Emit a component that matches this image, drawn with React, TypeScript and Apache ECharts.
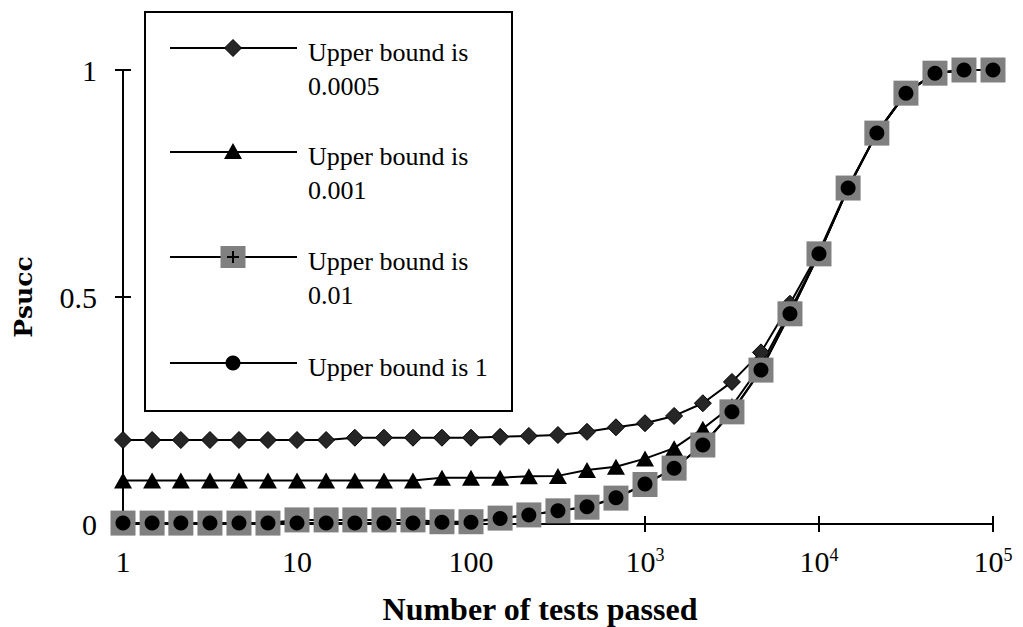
import React, { useEffect, useRef } from "react";
import * as echarts from "echarts";

// Number of tests passed (six points per decade)
const testsPassed = [
  1, 1.47, 2.15, 3.16, 4.64, 6.81,
  10, 14.7, 21.5, 31.6, 46.4, 68.1,
  100, 147, 215, 316, 464, 681,
  1000, 1470, 2150, 3160, 4640, 6810,
  10000, 14700, 21500, 31600, 46400, 68100,
  100000,
];

// Psucc for each upper bound
const bound00005 = [
  0.185, 0.185, 0.185, 0.185, 0.185, 0.185,
  0.185, 0.185, 0.19, 0.19, 0.19, 0.19,
  0.19, 0.192, 0.194, 0.196, 0.203, 0.213,
  0.222, 0.238, 0.266, 0.313, 0.378, 0.485,
  0.6, 0.742, 0.862, 0.95, 0.993, 1.0,
  1.0,
];
const bound0001 = [
  0.096, 0.096, 0.096, 0.096, 0.096, 0.096,
  0.096, 0.096, 0.096, 0.096, 0.096, 0.102,
  0.102, 0.102, 0.105, 0.106, 0.119, 0.126,
  0.144, 0.167, 0.21, 0.26, 0.35, 0.47,
  0.595, 0.74, 0.861, 0.949, 0.993, 1.0,
  1.0,
];
const bound001 = [
  0.002, 0.002, 0.002, 0.002, 0.002, 0.002,
  0.009, 0.009, 0.009, 0.009, 0.009, 0.005,
  0.005, 0.013, 0.02, 0.029, 0.037, 0.057,
  0.087, 0.123, 0.174, 0.247, 0.339, 0.463,
  0.595, 0.74, 0.861, 0.949, 0.993, 1.0,
  1.0,
];
const bound1 = [
  0.002, 0.002, 0.002, 0.002, 0.002, 0.002,
  0.002, 0.002, 0.002, 0.002, 0.002, 0.004,
  0.004, 0.012, 0.02, 0.029, 0.038, 0.058,
  0.088, 0.123, 0.174, 0.247, 0.339, 0.463,
  0.595, 0.74, 0.861, 0.949, 0.993, 1.0,
  1.0,
];

const seriesNames = [
  "Upper bound is 0.0005",
  "Upper bound is 0.001",
  "Upper bound is 0.01",
  "Upper bound is 1",
];
const legendLines = [
  ["Upper bound is", "0.0005"],
  ["Upper bound is", "0.001"],
  ["Upper bound is", "0.01"],
  ["Upper bound is 1"],
];
const yTicks = [0, 0.5, 1];
const xTitle = "Number of tests passed";
const yTitle = "Psucc";

const SERIF = "Liberation Serif";

function pairs(ys: number[]) {
  return testsPassed.map((x, i) => [x, ys[i]]);
}

function legendGraphic() {
  const rows = [48, 152, 257, 363];
  const mx = 233;
  const els: any[] = [
    {
      type: "rect",
      shape: { x: 145, y: 12, width: 367, height: 399 },
      style: { fill: "#fff", stroke: "#000", lineWidth: 2 },
      z: 20,
    },
  ];
  rows.forEach((cy, i) => {
    els.push({
      type: "line",
      shape: { x1: 170, y1: cy, x2: 297, y2: cy },
      style: { stroke: "#000", lineWidth: 2 },
      z: 21,
    });
    if (i === 0) {
      els.push({
        type: "polygon",
        shape: { points: [[mx, cy - 8.5], [mx + 8.5, cy], [mx, cy + 8.5], [mx - 8.5, cy]] },
        style: { fill: "#262626", stroke: "#000", lineWidth: 1 },
        z: 22,
      });
    } else if (i === 1) {
      els.push({
        type: "polygon",
        shape: { points: [[mx, cy - 9], [mx + 9, cy + 7], [mx - 9, cy + 7]] },
        style: { fill: "#000" },
        z: 22,
      });
    } else if (i === 2) {
      els.push({
        type: "rect",
        shape: { x: mx - 12.5, y: cy - 11, width: 25, height: 22 },
        style: { fill: "#808080" },
        z: 22,
      });
      els.push({
        type: "line",
        shape: { x1: mx, y1: cy - 6, x2: mx, y2: cy + 6 },
        style: { stroke: "#000", lineWidth: 2 },
        z: 23,
      });
      els.push({
        type: "line",
        shape: { x1: mx - 6, y1: cy, x2: mx + 6, y2: cy },
        style: { stroke: "#000", lineWidth: 2 },
        z: 23,
      });
    } else {
      els.push({
        type: "circle",
        shape: { cx: mx, cy, r: 7.5 },
        style: { fill: "#000" },
        z: 22,
      });
    }
    legendLines[i].forEach((t, j) => {
      els.push({
        type: "text",
        x: 308,
        y: cy + 4 + j * 34,
        z: 22,
        style: {
          text: t,
          fill: "#000",
          fontSize: 26,
          fontFamily: SERIF,
          align: "left",
          verticalAlign: "middle",
        },
      });
    });
  });
  return els;
}

export default function App() {
  const ref = useRef<HTMLDivElement>(null);

  useEffect(() => {
    if (!ref.current) return;
    const chart = echarts.init(ref.current, undefined, { renderer: "svg" });

    const axisLabelFont = { fontSize: 30, fontFamily: SERIF, color: "#000" };

    const lineBase = {
      type: "line",
      clip: false,
      showAllSymbol: true,
      lineStyle: { color: "#000", width: 2 },
      emphasis: { disabled: true },
    };

    chart.setOption({
      animation: false,
      backgroundColor: "#fff",
      textStyle: { fontFamily: SERIF },
      grid: { left: 123, right: 30, top: 70, bottom: 103 },
      xAxis: [
        {
          type: "log",
          logBase: 10,
          min: 1,
          max: 100000,
          axisLine: { show: true, onZero: false, lineStyle: { color: "#000", width: 2 } },
          axisTick: { show: true, length: 8, lineStyle: { color: "#000", width: 2 } },
          splitLine: { show: false },
          minorTick: { show: false },
          axisLabel: {
            margin: 22,
            formatter: (v: number) => {
              const e = Math.round(Math.log10(v));
              if (e < 3) return "{base|" + Math.round(v) + "}";
              return "{base|10}{sup|" + e + "}";
            },
            rich: {
              base: { ...axisLabelFont },
              sup: { fontSize: 18, fontFamily: SERIF, color: "#000", verticalAlign: "top", padding: [0, 0, 10, 0] },
            },
          },
        },
        {
          type: "log",
          logBase: 10,
          min: 1,
          max: 100000,
          position: "bottom",
          axisLine: { show: false, onZero: false },
          axisTick: { show: true, inside: true, length: 8, lineStyle: { color: "#000", width: 2 } },
          axisLabel: { show: false },
          splitLine: { show: false },
        },
      ],
      yAxis: [
        {
          type: "value",
          min: 0,
          max: 1,
          interval: 0.5,
          position: "left",
          axisLine: { show: true, lineStyle: { color: "#000", width: 2 } },
          axisTick: { show: true, length: 8, lineStyle: { color: "#000", width: 2 } },
          splitLine: { show: false },
          axisLabel: {
            margin: 26,
            ...axisLabelFont,
            formatter: (v: number) => (yTicks.includes(v) ? String(v) : ""),
          },
        },
        {
          type: "value",
          min: 0,
          max: 1,
          interval: 0.5,
          position: "left",
          axisLine: { show: false },
          axisTick: { show: true, inside: true, length: 8, lineStyle: { color: "#000", width: 2 } },
          axisLabel: { show: false },
          splitLine: { show: false },
        },
      ],
      series: [
        {
          ...lineBase,
          name: seriesNames[0],
          data: pairs(bound00005),
          symbol: "diamond",
          symbolSize: [17, 17],
          itemStyle: { color: "#262626", borderColor: "#000", borderWidth: 1 },
        },
        {
          ...lineBase,
          name: seriesNames[1],
          data: pairs(bound0001),
          symbol: "triangle",
          symbolSize: [18, 16],
          itemStyle: { color: "#000" },
        },
        {
          ...lineBase,
          name: seriesNames[2],
          data: pairs(bound001),
          symbol: "rect",
          symbolSize: [25, 25],
          itemStyle: { color: "#808080" },
        },
        {
          type: "scatter",
          name: seriesNames[2] + " +",
          data: pairs(bound001),
          symbol: "path://M5 0V10M0 5H10",
          symbolSize: 12,
          silent: true,
          clip: false,
          itemStyle: { color: "rgba(0,0,0,0)", borderColor: "#000", borderWidth: 2 },
          emphasis: { disabled: true },
        },
        {
          ...lineBase,
          name: seriesNames[3],
          data: pairs(bound1),
          symbol: "circle",
          symbolSize: 15,
          itemStyle: { color: "#000" },
        },
      ],
      graphic: [
        ...legendGraphic(),
        {
          type: "text",
          x: 540,
          y: 609,
          style: {
            text: xTitle,
            fill: "#000",
            fontSize: 32,
            fontWeight: "bold",
            fontFamily: SERIF,
            align: "center",
            verticalAlign: "middle",
          },
        },
        {
          type: "text",
          x: 23,
          y: 297,
          rotation: Math.PI / 2,
          style: {
            text: yTitle,
            fill: "#000",
            fontSize: 25,
            fontWeight: "bold",
            fontFamily: "DejaVu Serif",
            align: "center",
            verticalAlign: "middle",
          },
        },
      ],
    });

    return () => chart.dispose();
  }, []);

  return (
    <div
      ref={ref}
      style={{ position: "fixed", left: 0, top: 0, width: 1023, height: 627, background: "#fff" }}
    />
  );
}
